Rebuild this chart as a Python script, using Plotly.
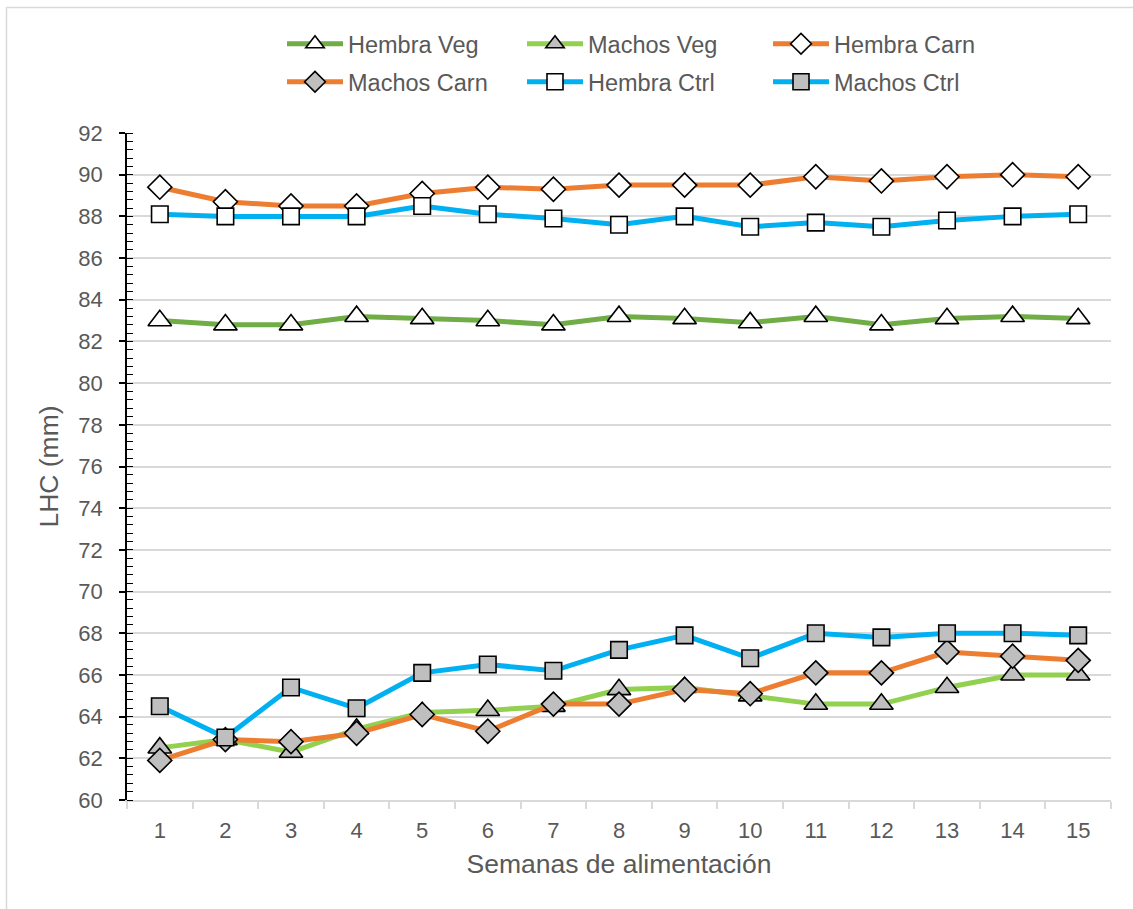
import plotly.graph_objects as go

# Semanas de alimentación
semanas = [str(i) for i in range(1, 16)]

# LHC (mm) por grupo
hembra_veg = [83.0, 82.8, 82.8, 83.2, 83.1, 83.0, 82.8, 83.2, 83.1, 82.9, 83.2, 82.8, 83.1, 83.2, 83.1]
machos_veg = [62.5, 62.9, 62.3, 63.4, 64.2, 64.3, 64.5, 65.3, 65.4, 65.0, 64.6, 64.6, 65.4, 66.0, 66.0]
hembra_carn = [89.4, 88.7, 88.5, 88.5, 89.1, 89.4, 89.3, 89.5, 89.5, 89.5, 89.9, 89.7, 89.9, 90.0, 89.9]
machos_carn = [61.9, 62.9, 62.8, 63.2, 64.1, 63.3, 64.6, 64.6, 65.3, 65.1, 66.1, 66.1, 67.1, 66.9, 66.7]
hembra_ctrl = [88.1, 88.0, 88.0, 88.0, 88.5, 88.1, 87.9, 87.6, 88.0, 87.5, 87.7, 87.5, 87.8, 88.0, 88.1]
machos_ctrl = [64.5, 63.0, 65.4, 64.4, 66.1, 66.5, 66.2, 67.2, 67.9, 66.8, 68.0, 67.8, 68.0, 68.0, 67.9]

DARK_GREEN = "#70AD47"
LIGHT_GREEN = "#92D050"
ORANGE = "#ED7D31"
BLUE = "#00B0F0"
WHITE = "#FFFFFF"
GRAY = "#BFBFBF"
TEXT = "#595959"
GRID = "#D9D9D9"
FONT = "Liberation Sans, Arial, sans-serif"

# plot area in pixels
L, R, T, B = 127, 1111, 133, 800
W, H = 1133, 909


def px_x(p):
    return (p - L) / (R - L)


def px_y(p):
    return (B - p) / (B - T)


series = [
    ("Hembra Veg", hembra_veg, DARK_GREEN, "triangle-up", WHITE, 20.5),
    ("Machos Veg", machos_veg, LIGHT_GREEN, "triangle-up", GRAY, 20.5),
    ("Hembra Carn", hembra_carn, ORANGE, "diamond", WHITE, 18.5),
    ("Machos Carn", machos_carn, ORANGE, "diamond", GRAY, 18.5),
    ("Hembra Ctrl", hembra_ctrl, BLUE, "square", WHITE, 16.5),
    ("Machos Ctrl", machos_ctrl, BLUE, "square", GRAY, 16.5),
]

# legend grid: 3 columns x 2 rows above the plot
legend_cols = [282, 522, 768]
legend_rows = [44, 82]

fig = go.Figure()
legends = {}
for i, (name, vals, color, symbol, fill, size) in enumerate(series):
    key = "legend" if i == 0 else f"legend{i + 1}"
    fig.add_trace(go.Scatter(
        x=semanas, y=vals, name=name, mode="lines+markers",
        line=dict(color=color, width=5),
        marker=dict(symbol=symbol, size=size, color=fill,
                    line=dict(color="#000000", width=1.6)),
        legend=key, showlegend=True,
    ))
    legends[key] = dict(
        x=px_x(legend_cols[i % 3]), y=px_y(legend_rows[i // 3]),
        xanchor="left", yanchor="middle",
        font=dict(family=FONT, size=23.5, color=TEXT),
        itemwidth=56, bgcolor="rgba(0,0,0,0)", borderwidth=0,
        visible=True,
    )

fig.update_layout(
    width=W, height=H,
    showlegend=True,
    margin=dict(l=L, r=W - R, t=T, b=H - B, autoexpand=False),
    paper_bgcolor="white", plot_bgcolor="white",
    font=dict(family=FONT, color=TEXT),
    shapes=[dict(type="rect", xref="paper", yref="paper",
                 x0=px_x(6.5), x1=px_x(W + 20),
                 y0=px_y(H + 20), y1=px_y(7.5),
                 line=dict(color=GRID, width=1.5), layer="below")],
    **legends,
)

fig.update_xaxes(
    type="category", range=[-0.5, 14.5],
    tickson="boundaries", ticks="outside", ticklen=7, tickcolor=GRID, tickwidth=1.5,
    showline=True, linecolor=GRID, linewidth=1.5,
    showgrid=False, zeroline=False,
    ticklabelstandoff=10,
    tickfont=dict(family=FONT, size=22, color=TEXT),
    title=dict(text="Semanas de alimentación", font=dict(family=FONT, size=26.5, color=TEXT), standoff=12),
)

fig.update_yaxes(
    range=[60, 92], dtick=2, tick0=60,
    ticks="outside", ticklen=6, tickcolor="#000000", tickwidth=1.5,
    minor=dict(ticks="inside", ticklen=6, tickcolor="#000000", tickwidth=1, dtick=0.4, showgrid=False),
    showline=True, linecolor="#000000", linewidth=1.5,
    showgrid=True, gridcolor=GRID, gridwidth=1.5, zeroline=False,
    ticklabelstandoff=12,
    tickfont=dict(family=FONT, size=22, color=TEXT),
    title=dict(text="LHC (mm)", font=dict(family=FONT, size=26.5, color=TEXT), standoff=12),
)

fig.write_html("out.html")
